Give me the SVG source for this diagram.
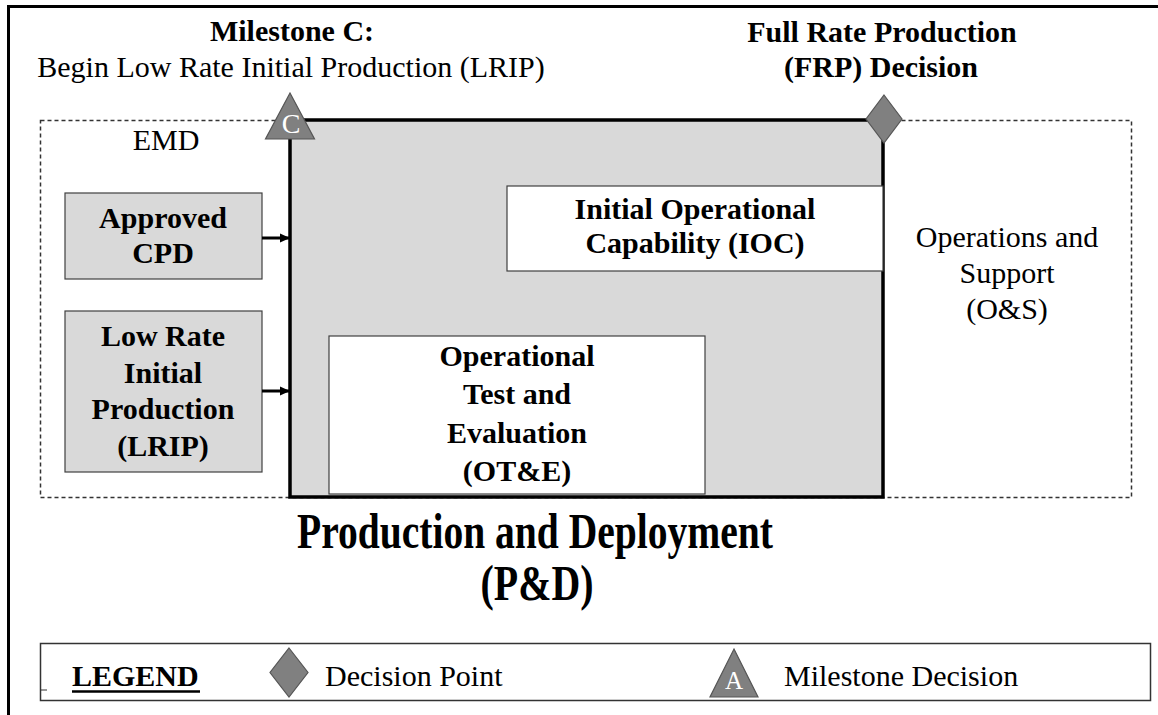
<svg xmlns="http://www.w3.org/2000/svg" width="1158" height="715" viewBox="0 0 1158 715">
  <style>
    .t { font-family: "Liberation Serif", "Times New Roman", serif; font-size: 30px; fill: #000; }
    .b { font-weight: bold; }
    .c { text-anchor: middle; }
    .phase { fill: #d9d9d9; stroke: #404040; stroke-width: 1.2; }
    .inner { fill: #ffffff; stroke: #404040; stroke-width: 1.2; }
    .dash { fill: none; stroke: #333; stroke-width: 1.5; stroke-dasharray: 4 3; }
    .mark { fill: #808080; stroke: #555; stroke-width: 1.2; }
    .mletter { font-family: "Liberation Serif", "Times New Roman", serif; fill: #fff; text-anchor: middle; }
    .conn { stroke: #000; stroke-width: 3; fill: none; }
  </style>
  <defs>
    <marker id="arrow" markerWidth="11" markerHeight="11" refX="9" refY="5" orient="auto" markerUnits="userSpaceOnUse">
      <path d="M0,0.5 L10,5 L0,9.5 Z" fill="#000"/>
    </marker>
  </defs>

  <rect width="1158" height="715" fill="#fff"/>

  <!-- page frame (left and top rule) -->
  <path d="M8.5,715 L8.5,6.5 L1158,6.5" fill="none" stroke="#000" stroke-width="3"/>

  <!-- headings above the phase -->
  <g id="milestone-c-label">
    <text class="t b c" x="292" y="41">Milestone C:</text>
    <text class="t c" x="291" y="77">Begin Low Rate Initial Production (LRIP)</text>
  </g>
  <g id="frp-label">
    <text class="t b c" x="882" y="42">Full Rate Production</text>
    <text class="t b c" x="881" y="77">(FRP) Decision</text>
  </g>

  <!-- surrounding phases -->
  <g id="emd-ops-band">
    <rect class="dash" x="40.5" y="120.5" width="1091" height="377"/>
    <text class="t c" x="166" y="150">EMD</text>
  </g>

  <!-- Production and Deployment phase -->
  <g id="pd-phase">
    <rect x="290" y="120" width="593" height="377" fill="#d9d9d9" stroke="#000" stroke-width="3.5"/>
  </g>

  <g id="ioc">
    <rect class="inner" x="507" y="186" width="376" height="85"/>
    <text class="t b c" x="695" y="219">Initial Operational</text>
    <text class="t b c" x="695" y="253">Capability (IOC)</text>
  </g>

  <g id="ote">
    <rect class="inner" x="329" y="336" width="376" height="158"/>
    <text class="t b c" x="517" y="366">Operational</text>
    <text class="t b c" x="517" y="404">Test and</text>
    <text class="t b c" x="517" y="443">Evaluation</text>
    <text class="t b c" x="517" y="481">(OT&amp;E)</text>
  </g>

  <g id="approved-cpd">
    <rect class="phase" x="65" y="193" width="197" height="86"/>
    <text class="t b c" x="163" y="228">Approved</text>
    <text class="t b c" x="163" y="263">CPD</text>
  </g>

  <g id="lrip">
    <rect class="phase" x="65" y="311" width="197" height="161"/>
    <text class="t b c" x="163" y="346">Low Rate</text>
    <text class="t b c" x="163" y="383">Initial</text>
    <text class="t b c" x="163" y="419">Production</text>
    <text class="t b c" x="163" y="456">(LRIP)</text>
  </g>

  <g id="ops-support">
    <text class="t c" x="1007" y="247">Operations and</text>
    <text class="t c" x="1007" y="283">Support</text>
    <text class="t c" x="1007" y="319">(O&amp;S)</text>
  </g>

  <!-- decision markers on the phase boundary -->
  <g id="milestone-c">
    <polygon class="mark" points="290,93 314.5,139 265.5,139"/>
    <text class="mletter" x="291" y="133" font-size="28">C</text>
  </g>
  <g id="frp-decision">
    <polygon class="mark" points="884,95 902,119 884,143 866,119"/>
  </g>

  <g id="connectors">
    <line class="conn" x1="262" y1="238" x2="289" y2="238" marker-end="url(#arrow)"/>
    <line class="conn" x1="262" y1="391" x2="289" y2="391" marker-end="url(#arrow)"/>
  </g>

  <!-- phase title -->
  <g id="title">
    <text class="t b c" x="535" y="548" textLength="476" lengthAdjust="spacingAndGlyphs" style="font-size:50px">Production and Deployment</text>
    <text class="t b c" x="537" y="600" textLength="113" lengthAdjust="spacingAndGlyphs" style="font-size:50px">(P&amp;D)</text>
  </g>

  <!-- legend -->
  <g id="legend">
    <rect x="40.5" y="643.5" width="1110" height="57" fill="#fff" stroke="#333" stroke-width="1.5"/>
    <line x1="40" y1="690" x2="47" y2="690" stroke="#333" stroke-width="1"/>
    <text class="t b" x="72" y="686">LEGEND</text>
    <line x1="72" y1="691.5" x2="200" y2="691.5" stroke="#000" stroke-width="2.5"/>
    <polygon class="mark" points="289,648 308,672.5 289,697 270,672.5"/>
    <text class="t" x="325" y="686">Decision Point</text>
    <polygon class="mark" points="734,649 758,697 710,697"/>
    <text class="mletter" x="734" y="689" font-size="25">A</text>
    <text class="t" x="784" y="686">Milestone Decision</text>
  </g>
</svg>
